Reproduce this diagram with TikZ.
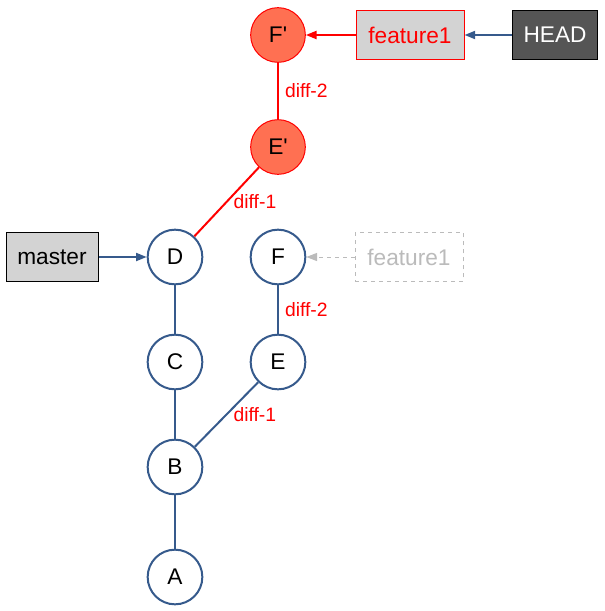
\documentclass[tikz,border=0pt]{standalone}
\usepackage{fontspec}
\setmainfont{Liberation Sans}
\usetikzlibrary{arrows.meta}

\definecolor{gitblue}{HTML}{365A8C}
\definecolor{newcommit}{HTML}{FF7052}
\definecolor{reflabel}{HTML}{D3D3D3}
\definecolor{headfill}{HTML}{555555}
\definecolor{oldref}{HTML}{BBBBBB}

\begin{document}
\begin{tikzpicture}[x=0.75pt,y=-0.75pt,
  commit/.style={circle,draw=gitblue,line width=1.5pt,fill=white,minimum size=41pt,inner sep=0pt,font=\fontsize{17}{20}\selectfont},
  rebased/.style={commit,draw=red,line width=0.75pt,fill=newcommit},
  branch/.style={rectangle,draw=black,line width=0.75pt,fill=reflabel,minimum height=36.5pt,inner sep=0pt,font=\fontsize{17}{20}\selectfont},
  parent/.style={gitblue,line width=1.5pt},
  ptr/.style={gitblue,line width=1.5pt,-{Triangle[length=8pt,width=6pt]}},
  diff/.style={midway,right,xshift=4.5pt,inner sep=0pt,text=red,font=\fontsize{14.5}{17}\selectfont}]
\useasboundingbox (0,0) rectangle (604,611);

% History
\node[commit] (A) at (175,577) {A};
\node[commit] (B) at (175,467) {B};
\node[commit] (C) at (175,362) {C};
\node[commit] (D) at (175,257) {D};
\node[commit] (E) at (278,362) {E};
\node[commit] (F) at (278,257) {F};
\draw[parent] (A) -- (B);
\draw[parent] (B) -- (C);
\draw[parent] (C) -- (D);
\draw[parent] (B) -- (E) node[diff] {diff-1};
\draw[parent] (E) -- (F) node[diff] {diff-2};

% Rebased commits
\node[rebased] (E2) at (278,147) {E\textquotesingle};
\node[rebased] (F2) at (278,35) {F\textquotesingle};
\draw[red,line width=1.5pt] (D) -- (E2) node[diff] {diff-1};
\draw[red,line width=1.5pt] (E2) -- (F2) node[diff] {diff-2};

% Refs
\node[branch,minimum width=69pt] (master) at (52,257) {master};
\node[branch,draw=red,text=red,minimum width=81pt] (feat) at (410,35) {feature1};
\node[branch,fill=headfill,text=white,minimum width=63.75pt] (head) at (555,35) {HEAD};
\node[branch,draw=oldref,dashed,fill=white,text=oldref,minimum width=81pt] (oldfeat) at (409,257) {feature1};
\draw[ptr] (master) -- (D);
\draw[ptr] (head) -- (feat);
\draw[ptr,red] (feat) -- (F2);
\draw[ptr,oldref,line width=0.75pt,dashed] (oldfeat) -- (F);
\end{tikzpicture}
\end{document}
